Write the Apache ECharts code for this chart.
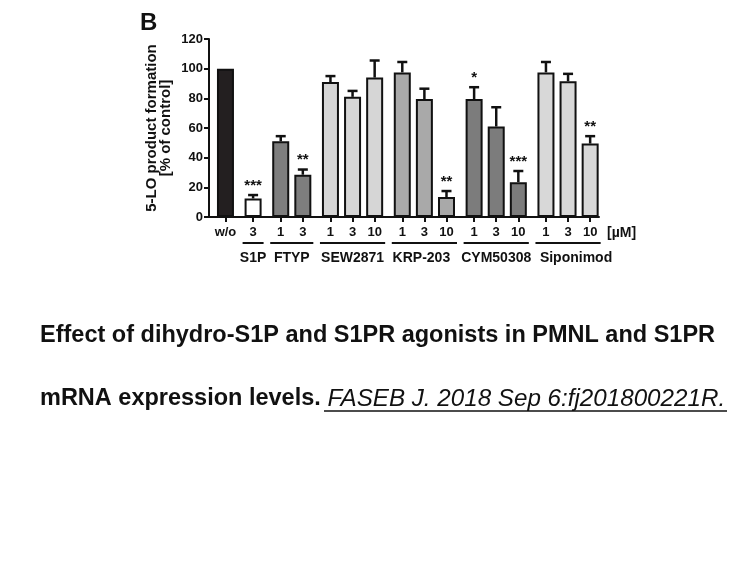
<!DOCTYPE html>
<html>
<head>
<meta charset="utf-8">
<script src="https://cdn.jsdelivr.net/npm/echarts@6/dist/echarts.min.js"></script>
<style>
  html, body { margin: 0; padding: 0; background: #fff; }
  #chart { width: 756px; height: 567px; }
</style>
</head>
<body>
<div id="chart"></div>
<script>
// data
const groupNames = ['', 'S1P', 'FTYP', 'SEW2871', 'KRP-203', 'CYM50308', 'Siponimod'];
const doseLabels = ['w/o', '3', '1', '3', '1', '3', '10', '1', '3', '10', '1', '3', '10', '1', '3', '10'];
const groupOf = [0, 1, 2, 2, 3, 3, 3, 4, 4, 4, 5, 5, 5, 6, 6, 6];
const means = [100, 12.5, 51, 28.5, 91, 81, 94, 97.5, 79.5, 13.5, 79.5, 61, 23.5, 97.5, 91.5, 49.5];
const errors = [0, 2.3, 3.5, 3.5, 4, 4, 11.5, 7, 7, 4, 8, 13, 7.5, 7, 5, 5];
const stars = ['', '***', '', '**', '', '', '', '', '', '**', '*', '', '***', '', '', '**'];
const yTicks = [0, 20, 40, 60, 80, 100, 120];

// styles
const groupColors = ['#231f20', '#ffffff', '#7e7e7e', '#d6d6d6', '#a9a9a9', '#7c7c7c', '#d8d8d8'];
const nameShift = [0, 0, 0, 0, -3, 0, 8];   // small nudges of the compound names
const FONT = "'Liberation Sans', Arial, sans-serif";
const GROUP_GAP = 0.25;
const BAR_W = 17;
const INK = '#111';

// x slot of each bar: one unit per bar, a little extra between groups
const pos = doseLabels.map((d, i) => i + GROUP_GAP * groupOf[i]);

const barData = means.map((m, i) => ({
  value: [pos[i], m],
  itemStyle: { color: groupColors[groupOf[i]] }
}));
const errData = means.map((m, i) => [pos[i], m, errors[i]]);

const ruleData = [];
for (let g = 1; g < groupNames.length; g++) {
  const idx = groupOf.map((v, i) => (v === g ? i : -1)).filter(i => i >= 0);
  ruleData.push([pos[idx[0]], pos[idx[idx.length - 1]], g]);
}

const boldText = (size) => ({ fontSize: size, fontWeight: 'bold', color: INK, fontFamily: FONT });

const chart = echarts.init(document.getElementById('chart'));

const option = {
  animation: false,
  textStyle: { fontFamily: FONT },
  title: {
    text: 'B',
    left: 140,
    top: 11,
    padding: 0,
    textStyle: boldText(24)
  },
  grid: { left: 209, right: 157, top: 39, bottom: 350 },
  xAxis: {
    type: 'value',
    min: -0.745,
    max: 16.9,
    name: '[µM]',
    nameLocation: 'end',
    nameGap: 8,
    nameTextStyle: Object.assign(boldText(14), { verticalAlign: 'top', padding: [9, 0, 0, 0] }),
    splitLine: { show: false },
    axisLine: { onZero: false, lineStyle: { color: INK, width: 2 } },
    axisTick: {
      customValues: pos,
      length: 5,
      lineStyle: { color: INK, width: 2 }
    },
    axisLabel: Object.assign(boldText(13), {
      customValues: pos,
      margin: 9,
      formatter: function (v) {
        const i = pos.findIndex(p => Math.abs(p - v) < 1e-6);
        return i >= 0 ? doseLabels[i] : '';
      }
    })
  },
  yAxis: {
    type: 'value',
    min: 0,
    max: 120,
    interval: 20,
    name: '5-LO product formation\n[% of control]',
    nameLocation: 'middle',
    nameGap: 36,
    nameMoveOverlap: false,
    nameTextStyle: Object.assign(boldText(15), { lineHeight: 14 }),
    splitLine: { show: false },
    axisLine: { show: true, onZero: false, lineStyle: { color: INK, width: 2 } },
    axisTick: { show: true, length: 5, lineStyle: { color: INK, width: 2 } },
    axisLabel: Object.assign(boldText(13), { margin: 6, customValues: yTicks })
  },
  series: [
    {
      type: 'bar',
      barWidth: BAR_W,
      data: barData,
      itemStyle: { borderColor: INK, borderWidth: 2 }
    },
    {
      // error bars (upper only) and significance stars
      type: 'custom',
      data: errData,
      z: 3,
      renderItem: function (params, api) {
        const x = api.value(0), m = api.value(1), e = api.value(2);
        const top = api.coord([x, m]);
        const cap = api.coord([x, m + e]);
        const children = [];
        if (e > 0) {
          children.push({
            type: 'line',
            shape: { x1: top[0], y1: top[1], x2: cap[0], y2: cap[1] },
            style: { stroke: INK, lineWidth: 2.5 }
          });
          children.push({
            type: 'line',
            shape: { x1: cap[0] - 5, y1: cap[1], x2: cap[0] + 5, y2: cap[1] },
            style: { stroke: INK, lineWidth: 2.5 }
          });
        }
        const s = stars[params.dataIndex];
        if (s) {
          children.push({
            type: 'text',
            x: cap[0],
            y: cap[1] - 2,
            style: {
              text: s, fill: INK, fontSize: 15, fontWeight: 'bold', fontFamily: FONT,
              align: 'center', verticalAlign: 'bottom'
            }
          });
        }
        return { type: 'group', children: children };
      }
    },
    {
      // group underlines and compound names below the dose labels
      type: 'custom',
      data: ruleData,
      clip: false,
      silent: true,
      renderItem: function (params, api) {
        const a = api.coord([api.value(0), 0]);
        const b = api.coord([api.value(1), 0]);
        const g = ruleData[params.dataIndex][2];
        const half = BAR_W / 2 + 2;
        return {
          type: 'group',
          children: [
            {
              type: 'line',
              shape: { x1: a[0] - half, y1: a[1] + 26, x2: b[0] + half, y2: a[1] + 26 },
              style: { stroke: INK, lineWidth: 2 }
            },
            {
              type: 'text',
              x: (a[0] + b[0]) / 2 + nameShift[g],
              y: a[1] + 41,
              style: {
                text: groupNames[g], fill: INK, fontSize: 14, fontWeight: 'bold', fontFamily: FONT,
                align: 'center', verticalAlign: 'middle'
              }
            }
          ]
        };
      }
    }
  ],
  graphic: [
    {
      type: 'text',
      left: 40,
      top: 324,
      style: {
        text: 'Effect of dihydro-S1P and S1PR agonists in PMNL and S1PR',
        fontSize: 23.5, fontWeight: 'bold', fill: INK, fontFamily: FONT
      }
    },
    {
      type: 'text',
      left: 40,
      top: 387,
      style: {
        text: '{b|mRNA expression levels.}{i| FASEB J. 2018 Sep 6:fj201800221R.}',
        fill: INK,
        fontFamily: FONT,
        rich: {
          b: { fontSize: 23.5, fontWeight: 'bold', fontFamily: FONT, fill: INK },
          i: { fontSize: 24.2, fontStyle: 'italic', fontFamily: FONT, fill: INK }
        }
      }
    },
    {
      type: 'line',
      shape: { x1: 324, y1: 411, x2: 727, y2: 411 },
      style: { stroke: INK, lineWidth: 1.5 }
    }
  ]
};

chart.setOption(option);
</script>
</body>
</html>
